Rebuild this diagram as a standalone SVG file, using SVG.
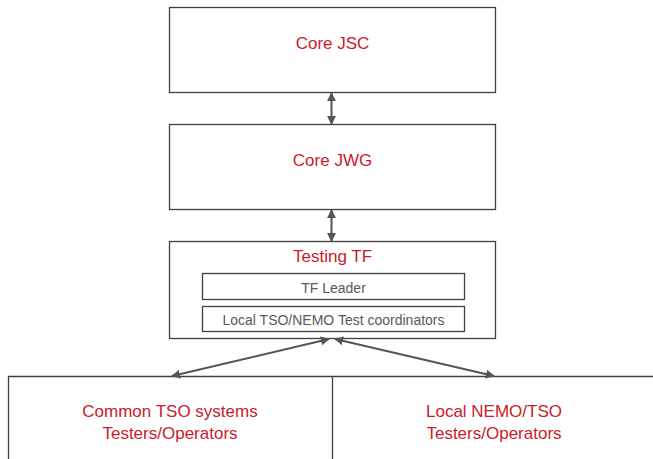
<svg xmlns="http://www.w3.org/2000/svg" width="653" height="459" viewBox="0 0 653 459">
<style>
.box{fill:#fff;stroke:#404040;stroke-width:1.3}
.inner{fill:#fff;stroke:#404040;stroke-width:1.3}
.red{font-family:"Liberation Sans",Arial,sans-serif;font-size:17px;fill:#C8202A;text-anchor:middle}
.gray{font-family:"Liberation Sans",Arial,sans-serif;font-size:14px;fill:#595959;text-anchor:middle}
.conn{stroke:#555;stroke-width:2;fill:none;marker-start:url(#ah);marker-end:url(#ah)}
</style>
<defs>
<marker id="ah" viewBox="0 0 10 10" refX="9" refY="5" markerWidth="4.5" markerHeight="4.5" orient="auto-start-reverse" markerUnits="strokeWidth">
<path d="M0,0 L10,5 L0,10 Z" fill="#555"/>
</marker>
</defs>
<rect width="653" height="459" fill="#fff"/>
<g id="core-jsc">
<rect class="box" x="169.5" y="7.5" width="326" height="85"/>
<text class="red" x="332.5" y="49">Core JSC</text>
</g>
<g id="core-jwg">
<rect class="box" x="169.5" y="124.5" width="326" height="85"/>
<text class="red" x="332.5" y="166">Core JWG</text>
</g>
<g id="testing-tf">
<rect class="box" x="169.5" y="241.5" width="326" height="97"/>
<text class="red" x="332.5" y="262">Testing TF</text>
<g id="tf-leader">
<rect class="inner" x="202.5" y="273.5" width="262" height="26"/>
<text class="gray" x="333.5" y="293">TF Leader</text>
</g>
<g id="local-coordinators">
<rect class="inner" x="202.5" y="306.5" width="262" height="25"/>
<text class="gray" x="333.5" y="325">Local TSO/NEMO Test coordinators</text>
</g>
</g>
<g id="common-tso">
<path d="M8.5,459 V376.5 H332.5 V459" fill="none" stroke="#404040" stroke-width="1.3"/>
<text class="red" x="170" y="417">Common TSO systems</text>
<text class="red" x="170" y="439">Testers/Operators</text>
</g>
<g id="local-nemo">
<path d="M332.5,376.5 H653" fill="none" stroke="#404040" stroke-width="1.3"/>
<text class="red" x="494" y="417">Local NEMO/TSO</text>
<text class="red" x="494" y="439">Testers/Operators</text>
</g>
<g id="connectors">
<line class="conn" x1="331.5" y1="93" x2="331.5" y2="124"/>
<line class="conn" x1="331.5" y1="210" x2="331.5" y2="241"/>
<line class="conn" x1="329" y1="339" x2="172" y2="376"/>
<line class="conn" x1="335" y1="339" x2="494" y2="376"/>
</g>
</svg>
